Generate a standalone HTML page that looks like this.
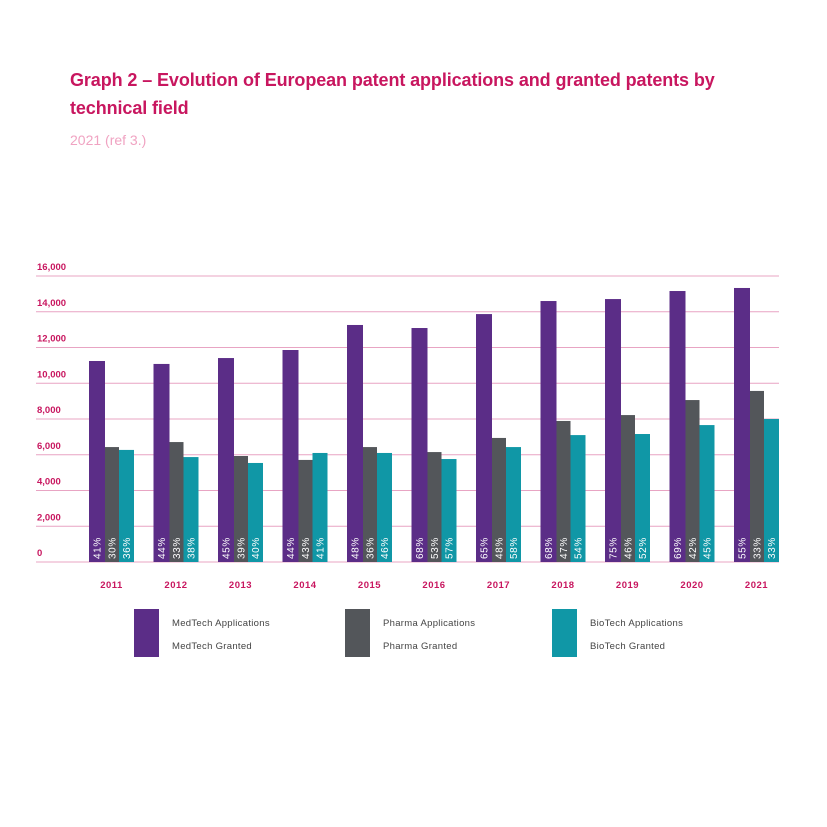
<!DOCTYPE html>
<html><head><meta charset="utf-8"><style>
body{margin:0;width:827px;height:827px;background:#fff;font-family:"Liberation Sans",sans-serif;overflow:hidden}
#t{position:absolute;left:70px;top:66px;width:720px;font-size:18px;font-weight:bold;color:#c8165f;line-height:28px;letter-spacing:-0.1px}
#s{position:absolute;left:70px;top:132px;font-size:14px;color:#f0a3c2}
</style></head><body>
<div id="t">Graph 2 – Evolution of European patent applications and granted patents by technical field</div>
<div id="s">2021 (ref 3.)</div>
<svg id="c" width="827" height="827" style="position:absolute;left:0;top:0"></svg>
<script>
const years=["2011","2012","2013","2014","2015","2016","2017","2018","2019","2020","2021"];
const medtech=[11245,11080,11410,11860,13260,13090,13870,14600,14710,15160,15330];
const pharma=[6430,6710,5930,5710,6430,6150,6940,7890,8220,9060,9570];
const biotech=[6270,5870,5540,6100,6100,5760,6430,7100,7160,7660,8000];
const medPct=["41%","44%","45%","44%","48%","68%","65%","68%","75%","69%","55%"];
const phPct=["30%","33%","39%","43%","36%","53%","48%","47%","46%","42%","33%"];
const bioPct=["36%","38%","40%","41%","46%","57%","58%","54%","52%","45%","33%"];
const ticks=[0,2000,4000,6000,8000,10000,12000,14000,16000];
const NS="http://www.w3.org/2000/svg",svg=document.getElementById('c');
const y=v=>562-v/16000*286;
const gx=i=>89+i*64.5;
function mk(t,a){const e=document.createElementNS(NS,t);for(const k in a)e.setAttribute(k,a[k]);svg.appendChild(e);return e;}
ticks.forEach(t=>{
 const l=mk('line',{x1:36,x2:779,y1:y(t),y2:y(t),stroke:'#e8a4c3','stroke-width':1});
 
 
 const tx=mk('text',{x:37,y:y(t)-6,'font-size':9.5,fill:'#c8165f','font-weight':'bold'});tx.textContent=t.toLocaleString('en-US');
 
 
});
const series=[[medtech,medPct,'#5b2d87',0,16],[pharma,phPct,'#53565a',16,14],[biotech,bioPct,'#1097a6',30,15]];
years.forEach((yr,i)=>{
 series.forEach(([vals,pcts,col,off,w],si)=>{
  const x=gx(i)+off;
  const r=mk('rect',{x:x,y:y(vals[i]),width:w,height:562-y(vals[i]),fill:col});
  
  
  const t=mk('text',{transform:`translate(${x+w/2+3.5},559) rotate(-90)`,'font-size':10,fill:'#fff','letter-spacing':'0.6'});
  t.textContent=pcts[i];
  
  
 });
 const t=mk('text',{x:gx(i)+22.5,y:588,'font-size':9.5,fill:'#c8165f','font-weight':'bold','text-anchor':'middle','letter-spacing':'0.5'});t.textContent=yr;
 
 
});
const leg=[['#5b2d87',134,'MedTech'],['#53565a',345,'Pharma'],['#1097a6',552,'BioTech']];
leg.forEach(([c,x,n])=>{
 const r=mk('rect',{x:x,y:609,width:25,height:48,fill:c});
 
 
 const a=mk('text',{x:x+38,y:626,'font-size':9.5,fill:'#444','letter-spacing':'0.3'});a.textContent=n+' Applications';
 
 
 const b=mk('text',{x:x+38,y:649,'font-size':9.5,fill:'#444','letter-spacing':'0.3'});b.textContent=n+' Granted';
 
 
});
</script>
</body></html>
